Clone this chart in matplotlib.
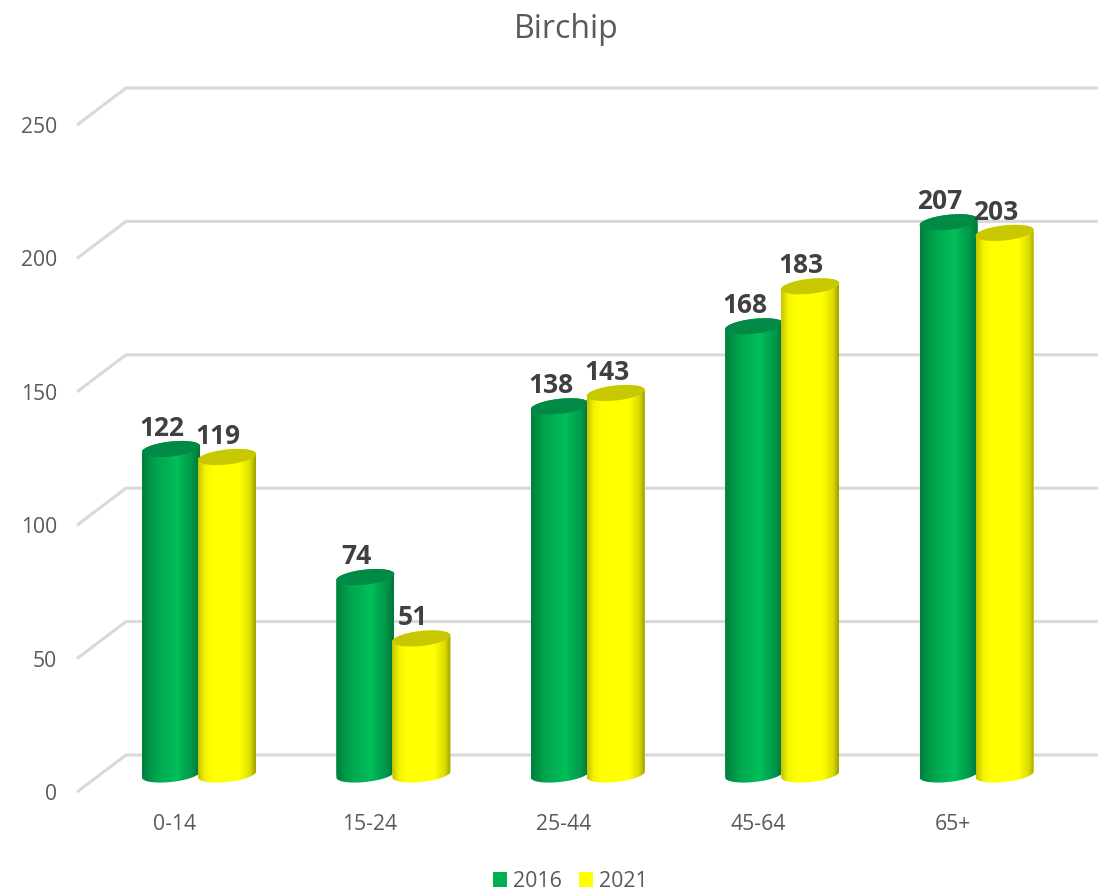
import numpy as np
import matplotlib
matplotlib.use("Agg")
import matplotlib.pyplot as plt
from matplotlib.colors import LinearSegmentedColormap
from matplotlib.path import Path
from matplotlib.patches import PathPatch

categories = ["0-14", "15-24", "25-44", "45-64", "65+"]
values_2016 = [122, 74, 138, 168, 207]
values_2021 = [119, 51, 143, 183, 203]
y_ticks = [0, 50, 100, 150, 200, 250]

W, H = 1102, 891
plt.rcParams["font.family"] = ["Open Sans", "DejaVu Sans"]
TXT = "#595959"
LBL = "#404040"
GRID = "#D9D9D9"

fig = plt.figure(figsize=(W / 100, H / 100), dpi=100, facecolor="white")
L, R, B, T = 77, 1102, 792, 125
ax = fig.add_axes([L / W, 1 - B / H, (R - L) / W, (B - T) / H])

PX_X = 194.4          # pixels per category
PX_Y = (B - T) / 250  # pixels per unit
X0 = 175              # pixel of first category in the front plane
xlim = ((L - X0) / PX_X, (R - X0) / PX_X)
x_pos = np.arange(len(categories))


def px_w(p):
    return p / PX_X


def px_h(p):
    return p / PX_Y


# back wall and side wall gridlines
for v in y_ticks:
    ax.plot([xlim[0], xlim[0] + px_w(49), xlim[0] + px_w(1021)],
            [v, v + px_h(37), v + px_h(37)],
            color=GRID, lw=2.2, clip_on=False, zorder=1,
            solid_joinstyle="miter", solid_capstyle="butt")

green = LinearSegmentedColormap.from_list(
    "g", [(0, "#00803E"), (0.25, "#00A64F"), (0.6, "#00BE59"), (0.85, "#009A4B"), (1, "#00763A")])
yellow = LinearSegmentedColormap.from_list(
    "y", [(0, "#C4C400"), (0.12, "#F4F400"), (0.25, "#FFFF00"), (0.72, "#FFFF00"), (0.9, "#DCDC00"), (1, "#A0A000")])
grad = np.linspace(0, 1, 128).reshape(1, -1)

BAR_W = 58
A = px_w(BAR_W / 2)
BASE = px_h(17.5)
MINOR = px_h(7.5)
TILT = px_h(3)
t = np.linspace(0, 2 * np.pi, 73)


def rim(cx, cy, angles):
    return cx + A * np.cos(angles), cy + MINOR * np.sin(angles) + TILT * np.cos(angles)


series = [
    ("2016", values_2016, -4, "#00B050", green, "#008A45"),
    ("2021", values_2021, 52, "#FFFF00", yellow, "#C8C800"),
]
z = 2
handles = []
for name, vals, off, col, cmap, capcol in series:
    xs = x_pos + px_w(off)
    bars = ax.bar(xs, vals, width=2 * A, bottom=BASE, color=col, linewidth=0, label=name, zorder=z)
    handles.append(bars)
    for x, v, rect in zip(xs, vals, bars):
        top = BASE + v
        lo = np.linspace(np.pi, 2 * np.pi, 37)
        up = np.linspace(0, np.pi, 37)
        bx, by = rim(x, BASE, lo)
        tx, ty = rim(x, top, up)
        px_ = np.r_[bx, tx, bx[0]]
        py_ = np.r_[by, ty, by[0]]
        body = PathPatch(Path(np.c_[px_, py_], closed=False), transform=ax.transData,
                         facecolor="none", edgecolor="none")
        rect.set_clip_path(body)
        im = ax.imshow(grad, extent=[x - A, x + A, BASE - 2 * MINOR, top + 2 * MINOR],
                       aspect="auto", cmap=cmap, vmin=0, vmax=1,
                       interpolation="bilinear", zorder=z + 0.1)
        im.set_clip_path(body)
        cx, cy = rim(x, top, t)
        ax.fill(cx, cy, color=capcol, lw=0, zorder=z + 0.2)
        ax.text(x - px_w(9), top + px_h(20.5), str(v), ha="center", va="center",
                fontsize=19, fontweight="bold", color=LBL, zorder=10)
    z += 1

ax.set_xlim(*xlim)
ax.set_ylim(0, 250)
ax.set_xticks(x_pos, categories)
ax.set_yticks(y_ticks, [str(v) for v in y_ticks])
ax.tick_params(axis="both", length=0, labelsize=15.2, labelcolor=TXT)
ax.tick_params(axis="y", pad=14.5)
ax.tick_params(axis="x", pad=16)
for s in ax.spines.values():
    s.set_visible(False)
ax.patch.set_visible(False)

fig.suptitle("Birchip", x=566 / W, y=1 - 29 / H, va="center", ha="center",
             fontsize=23, color=TXT)

ax.legend(handles=handles, loc="center", bbox_to_anchor=(570.5 / W, 1 - 881.5 / H),
          bbox_transform=fig.transFigure, ncol=2, frameon=False, fontsize=15.4,
          labelcolor=TXT, handlelength=0.65, handleheight=0.65, handletextpad=0.28,
          columnspacing=0.78, borderpad=0, borderaxespad=0)

fig.savefig("out.png", dpi=100, facecolor="white")
